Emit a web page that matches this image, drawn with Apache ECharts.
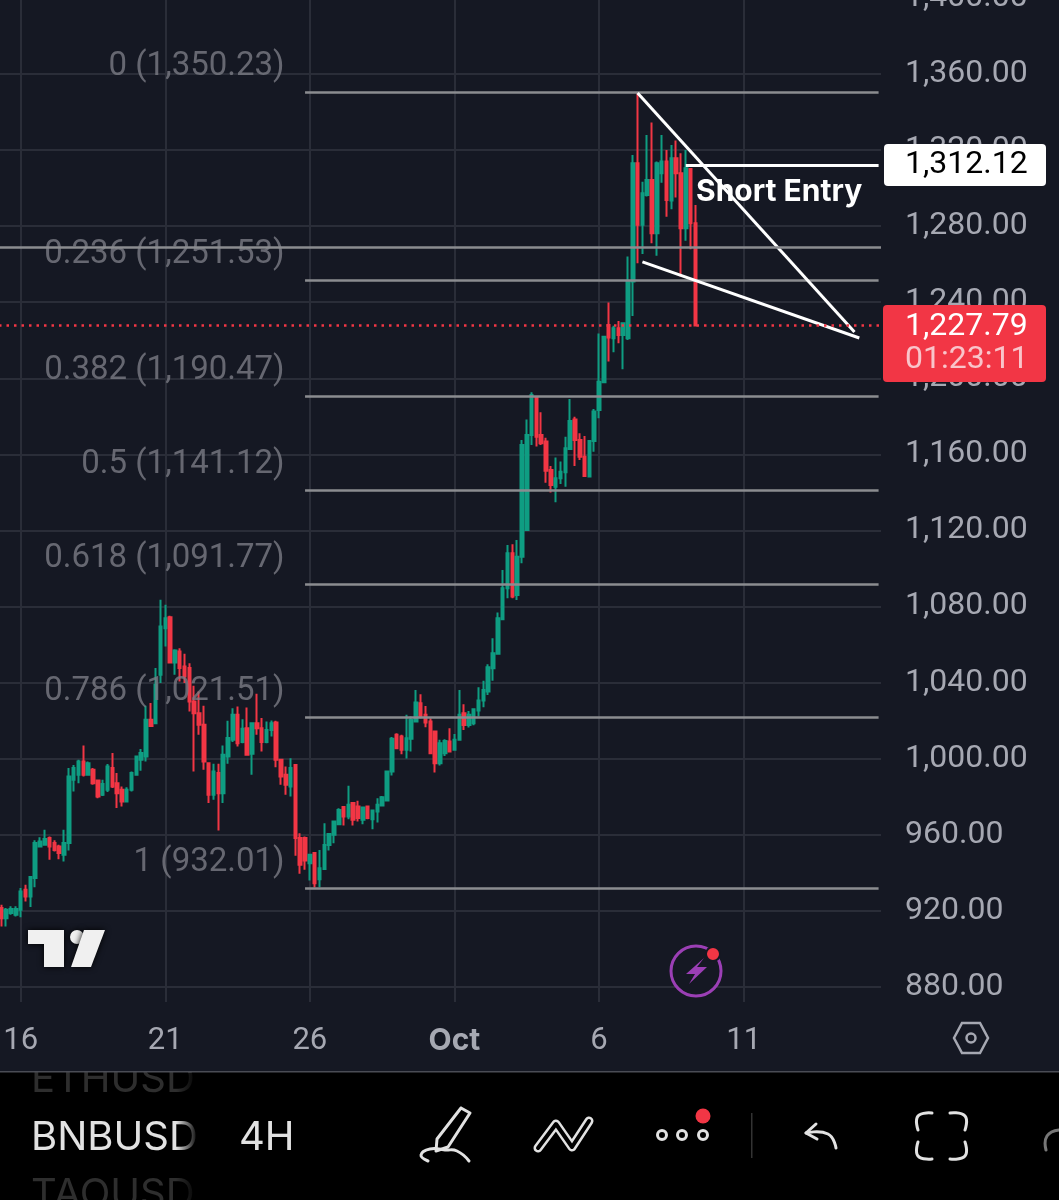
<!DOCTYPE html>
<html>
<head>
<meta charset="utf-8">
<title>BNBUSD 4H</title>
<script src="https://cdn.jsdelivr.net/npm/echarts@6/dist/echarts.min.js"></script>
<style>
html, body { margin: 0; padding: 0; background: #151823; }
#chart_bnb { width: 1059px; height: 1200px; }
</style>
</head>
<body>
<div id="chart_bnb"></div>
<script>
/* 4H candles */
var opens = [921.4,916.1,918.8,917.9,920.5,931,927.5,937.2,953.8,954.7,
	958.2,955.6,953.8,949.4,955.6,988.9,991.5,998.5,991.5,994.1,
	988.5,981,983.6,995,987.1,983.6,977.5,983.6,991.5,999.4,
	1001.1,1020.4,1018.6,1044.1,1068.6,1074.4,1050.5,1056.3,1048.4,1047.6,
	1030,1023.9,1017.8,997.6,981,992.4,981.8,1001.1,1009.9,1023,
	1008.7,1016,1002.5,1018.6,1016,1008.7,1015.1,1019,999.4,991.5,
	985.3,996.7,958.2,958.2,945,950.3,936.6,941.9,954.6,959.9,
	965.5,974.5,969.5,976.6,974.8,967.8,974.8,968.1,972.2,975.3,
	978,993.2,1012.5,1011.6,1004.6,1010.4,1019.5,1029.1,1023,1019.5,
	1014.2,997.6,1002.8,1009,1004.6,1009.9,1023.9,1017.7,1018.6,1025.3,
	1030.5,1035.3,1047.5,1055.1,1073.3,1089.6,1108,1086,1106.2,1120.2,
	1170.2,1190,1170.2,1166.7,1151.8,1143,1147.4,1150.6,1162.8,1178.4,
	1167.6,1158.8,1148.3,1167,1183.3,1197.9,1228,1221,1226.3,1222.8,
	1221.1,1250.9,1313.1,1280.7,1296.4,1304.3,1276.3,1307.8,1314,1293.5,
	1315.7,1307.8,1278.9,1310.1,1281.5];
var closes = [916.1,920.5,920.9,920.9,930.1,927.5,937.7,955.6,956.4,957.7,
	953.8,952,950.3,955.6,990.6,995,998.5,991.5,997.6,987.1,
	980.1,986.7,995.9,985.3,981.8,977.5,983.6,992.4,1001.1,1002.9,
	1020.4,1017.2,1038.8,1069.5,1073.8,1050.5,1056.8,1047.6,1043.2,1030,
	1023.9,1017.8,998.5,981,993.2,981.8,1002,1010.8,1023,1008.1,
	1015.7,1002,1018.6,1016,1008.7,1015.1,1018.6,999.4,990.6,986.2,
	995,958.2,944.2,946.4,949.4,934.5,942.4,954.6,960.4,966.9,
	973,969.5,975.7,967.8,968.7,974.3,968.7,972.7,975.7,979.7,
	993.2,1010.4,1005.5,1004.6,1010.7,1020.4,1029.5,1022.1,1019,1002.8,
	997.6,1008.1,1009.3,1003.7,1009.9,1023,1017.7,1023,1026,1030.5,
	1036.1,1048.1,1055.4,1073.8,1089.6,1108,1085.2,1106.2,1164.9,1170.2,
	1191.2,1169.3,1165.8,1151.4,1143.9,1147.4,1150.9,1163.2,1177.6,1167.6,
	1158.8,1148.6,1167,1182.5,1198.2,1221.9,1221.5,1226.3,1222.8,1228.9,
	1250.9,1313.1,1280.7,1297.3,1304.3,1276.3,1313.1,1314,1293.8,1315.7,
	1307.8,1278.9,1310.5,1281.5,1227.79];
var lows = [911.7,911.7,917.9,917,916.6,924.9,921.9,932.4,953.3,954.2,
	946.8,951.2,947.1,945.9,951.7,982.7,987.1,990.6,991,986.2,
	979.2,980.4,982.4,984.5,974,974.8,976.9,982.7,991,993.6,
	998.5,1016.9,1018.3,1039.7,1059,1050.2,1044.1,1040.5,1039.7,1024.8,
	993.2,1012.5,994.1,976.6,978.3,962.2,976.6,997.3,1008.7,1006.4,
	1008.1,1001.6,991.5,1012.5,1003.7,1008.1,1011.6,995.5,986.2,981,
	980.1,948.9,939.4,941.5,935.9,932.2,932.4,941.5,951.7,955.5,
	965.2,964.8,968.1,964.8,966.9,965.5,968.1,962.9,966.4,974.8,
	977.6,991.1,1005,1002.3,1000,1003.7,1019,1021.2,1016.5,1002.8,
	992.7,996.4,1001.4,1003.5,1004.2,1009.5,1015.1,1016.3,1017.6,1022.1,
	1027,1033.5,1041,1055.1,1072.9,1084.3,1084.3,1083.4,1102.7,1120.2,
	1164.9,1164.1,1164.9,1145.1,1139.9,1134.8,1144.4,1143,1162.7,1153.9,
	1157.1,1148.3,1147.9,1161.4,1179,1197.9,1208.8,1213.7,1218.4,1204.7,
	1220.2,1232.8,1260.5,1265.4,1295.6,1271,1264.4,1302.9,1285,1288.9,
	1295.1,1253.5,1272.4,1267.9,1227.6];
var highs = [923.1,921.4,922.3,922.3,931.9,933.6,938,957,958.7,962.6,
	959,957,954.7,962.6,995,996.7,999.4,1006.9,998.5,995,
	988.9,988.9,997.1,1002.9,992.4,985.3,985,993.2,1001.6,1005.1,
	1027.8,1029.2,1047.6,1083.5,1080.9,1075.1,1057.5,1058.1,1055.1,1050.2,
	1038.3,1035.3,1027.8,998.1,997.3,997.3,1006.9,1019.9,1026.5,1027.4,
	1020.7,1026.9,1019,1034.1,1021.3,1019.5,1020,1019.9,999.9,995.9,
	1000.2,997.1,960.8,959,949.4,950.8,952,966,960.4,967.3,
	973.9,974.8,985.7,977.1,977.8,974.8,975.2,973,979.2,980.4,
	993.6,1011.3,1013.4,1012.5,1023,1022.1,1036.1,1033.9,1027.7,1021.2,
	1014.8,1009.9,1010.2,1016,1013,1036.1,1028.6,1025.1,1026.5,1037.5,
	1041,1049.6,1063.3,1076.8,1099.2,1112.4,1112.7,1115,1167.6,1178.4,
	1192.6,1190.3,1182.1,1168.8,1153.9,1158.3,1156.2,1169.3,1189.1,1179.8,
	1171.1,1169.7,1167.6,1183.9,1223.6,1222.2,1239.8,1227.7,1230.1,1229.3,
	1264,1317.5,1349.9,1303.4,1328,1334.5,1314,1328,1320.1,1322.7,
	1325,1318.3,1320.1,1310.5,1291.2];

var fibRatios = ['0','0.236','0.382','0.5','0.618','0.786','1'];
var fibLevels = [1350.23,1251.53,1190.47,1141.12,1091.77,1021.51,932.01];
var extraLevel = 1269;
var shortEntry = 1312.12;
var lastPrice = 1227.79;
var countdown = '01:23:11';

var priceTicks = [880,920,960,1000,1040,1080,1120,1160,1200,1240,1280,1320,1360,1400];
var dateTickIndex = [4,34,64,94,124,154];
var dateTickLabels = ['16','21','26','Oct','6','11'];

/* drawn trend lines, [candle index, price] */
var upperTrend = [[132,1350],[177,1224.4]];
var lowerTrend = [[133,1261.2],[178,1221.2]];

var categories = [];
for (var i = 0; i < 183; i++) { categories.push(String(i)); }

var candles = opens.map(function (o, i) { return [o, closes[i], lows[i], highs[i]]; });

var font = 'Inter';
var numFont = 'Roboto';   // tabular digits
var axisGray = '#a6a8b2';
var fibGray = '#7a7c84';
var lineGray = '#8b8c90';
var gridGray = '#2a2d38';
var bg = '#151823';
var red = '#f23645';
var green = '#0f9d82';
var iconGray = '#e2e2e2';

function isDateTick(i) { return dateTickIndex.indexOf(i) >= 0; }
function money(v) {
	return v.toLocaleString('en-US', {minimumFractionDigits: 2, maximumFractionDigits: 2});
}

var fibLines = fibLevels.map(function (v) {
	return [{coord: [63, v]}, {coord: [182, v]}];
});
var whiteStyle = {color: '#fff', width: 3, type: 'solid'};
var drawnLines = [
	[{coord: upperTrend[0], lineStyle: whiteStyle}, {coord: upperTrend[1]}],
	[{coord: lowerTrend[0], lineStyle: whiteStyle}, {coord: lowerTrend[1]}],
	[{coord: [142, shortEntry], lineStyle: whiteStyle}, {coord: [182, shortEntry]}]
];

function poly(points, width, color) {
	return {type: 'polyline', z: 120, shape: {points: points},
		style: {stroke: color || iconGray, lineWidth: width || 3, fill: null, lineCap: 'round', lineJoin: 'round'}};
}
function smooth(points, width, color) {
	var p = poly(points, width, color);
	p.shape.smooth = 0.5;
	return p;
}
function label(text, x, y, size, color, weight, family) {
	return {type: 'text', z: 130, x: x, y: y,
		style: {text: text, fill: color, font: (weight || 400) + ' ' + size + 'px ' + (family || font),
			textAlign: 'left', textVerticalAlign: 'middle'}};
}

var graphics = [
	// price tags on the axis
	{type: 'rect', z: 110, shape: {x: 884, y: 144, width: 162, height: 42, r: 4}, style: {fill: '#fff'}},
	label(money(shortEntry), 905, 165, 32, '#000', 400, numFont),
	{type: 'rect', z: 110, shape: {x: 883, y: 305, width: 163, height: 77, r: 4}, style: {fill: red}},
	label(money(lastPrice), 905, 327, 32, '#fff', 400, numFont),
	label(countdown, 905, 360, 32, '#f9c4ca', 400, numFont),
	label('Short Entry', 696, 192, 30, '#fff', 700),

	// tradingview logo
	{type: 'polygon', z: 120, shape: {points: [[28,930],[64,930],[64,967],[44,967],[44,944],[28,944]]},
		style: {fill: '#f0f0f0', shadowBlur: 6, shadowColor: '#000'}},
	{type: 'circle', z: 120, shape: {cx: 77, cy: 937, r: 7}, style: {fill: '#f0f0f0', shadowBlur: 6, shadowColor: '#000'}},
	{type: 'polygon', z: 120, shape: {points: [[84,930],[105,930],[91,967],[71,967]]},
		style: {fill: '#f0f0f0', shadowBlur: 6, shadowColor: '#000'}},

	// lightning badge
	{type: 'circle', z: 120, shape: {cx: 696, cy: 971, r: 25}, style: {fill: bg, stroke: '#9b3fb5', lineWidth: 3}},
	{type: 'polygon', z: 121, shape: {points: [[704,958],[686,974],[695,974],[689,984],[707,967],[697,967]]}, style: {fill: '#9b3fb5'}},
	{type: 'circle', z: 121, shape: {cx: 713, cy: 954, r: 7}, style: {fill: red, stroke: bg, lineWidth: 2}},

	// settings hexagon
	{type: 'polygon', z: 120, shape: {points: [[954,1038],[962,1023],[980,1023],[988,1038],[980,1053],[962,1053]]},
		style: {fill: null, stroke: axisGray, lineWidth: 2.5}},
	{type: 'circle', z: 120, shape: {cx: 971, cy: 1038, r: 4.5}, style: {fill: null, stroke: axisGray, lineWidth: 2.5}},

	// bottom toolbar
	{type: 'rect', z: 100, shape: {x: 0, y: 1072, width: 1059, height: 128}, style: {fill: '#000'}},
	label('ETHUSD', 31, 1080, 40, '#2e2e2e', 400),
	label('TAOUSD', 31, 1195, 40, '#2e2e2e', 400),
	{type: 'rect', z: 131, shape: {x: 0, y: 1058, width: 1059, height: 14}, style: {fill: bg}},
	{type: 'rect', z: 132, shape: {x: 0, y: 1071, width: 1059, height: 1.5}, style: {fill: '#4a4c55'}},
	label('BNBUSD', 31, 1138, 40, iconGray, 400),
	{type: 'rect', z: 133, shape: {x: 176, y: 1073, width: 28, height: 127},
		style: {fill: new echarts.graphic.LinearGradient(0, 0, 1, 0, [{offset: 0, color: 'rgba(0,0,0,0)'}, {offset: 0.8, color: '#000'}, {offset: 1, color: '#000'}])}},
	label('4H', 239, 1138, 40, iconGray, 400),

	// pen
	poly([[461,1108],[470,1113],[448,1147],[436,1151],[437,1139],[461,1108]]),
	smooth([[428,1161],[421,1155],[430,1149],[445,1150],[457,1151],[469,1161]]),
	// strategy zigzag
	poly([[538,1148],[556,1124],[572,1147],[589,1121]], 9),
	poly([[538,1148],[556,1124],[572,1147],[589,1121]], 4, '#000'),
	// more dots
	{type: 'circle', z: 120, shape: {cx: 662, cy: 1135, r: 4.5}, style: {fill: null, stroke: iconGray, lineWidth: 3}},
	{type: 'circle', z: 120, shape: {cx: 682, cy: 1135, r: 4.5}, style: {fill: null, stroke: iconGray, lineWidth: 3}},
	{type: 'circle', z: 120, shape: {cx: 703, cy: 1135, r: 4.5}, style: {fill: null, stroke: iconGray, lineWidth: 3}},
	{type: 'circle', z: 120, shape: {cx: 703, cy: 1116, r: 7.5}, style: {fill: red}},
	{type: 'rect', z: 120, shape: {x: 751, y: 1113, width: 1.5, height: 45}, style: {fill: '#333'}},
	// undo
	poly([[816,1124],[806,1133],[817,1139]]),
	smooth([[806,1133],[828,1134],[836,1148]]),
	// fullscreen
	smooth([[918,1130],[918,1116],[932,1113]]),
	smooth([[950,1113],[965,1116],[965,1130]]),
	smooth([[918,1142],[918,1156],[932,1159]]),
	smooth([[950,1159],[965,1156],[965,1142]]),
	smooth([[1046,1150],[1047,1136],[1059,1130]], 3, '#777')
];

var myChart = echarts.init(document.getElementById('chart_bnb'));
var option = {
	backgroundColor: bg,
	animation: false,
	grid: {left: -1, top: -2, width: 882, height: 1004, outerBoundsMode: 'none'},
	xAxis: {
		type: 'category',
		data: categories,
		boundaryGap: true,
		axisLine: {show: false},
		axisTick: {show: false},
		splitLine: {show: true, interval: function (i) { return isDateTick(i); }, alignWithLabel: true, lineStyle: {color: gridGray, width: 2}},
		axisLabel: {
			interval: function (i) { return isDateTick(i); },
			margin: 24,
			color: axisGray,
			fontFamily: numFont,
			fontSize: 31,
			formatter: function (v, i) {
				var t = dateTickLabels[dateTickIndex.indexOf(i)];
				return t === 'Oct' ? '{b|Oct}' : t;
			},
			rich: {b: {color: axisGray, fontFamily: font, fontSize: 30, fontWeight: 700}}
		}
	},
	yAxis: {
		type: 'value',
		position: 'right',
		min: 872,
		max: 1400,
		axisLine: {show: false},
		axisTick: {show: false, customValues: priceTicks},
		splitLine: {show: true, lineStyle: {color: gridGray, width: 2}},
		axisLabel: {
			customValues: priceTicks,
			margin: 24,
			color: axisGray,
			fontFamily: numFont,
			fontSize: 32,
			padding: [0, 0, 4, 0],
			formatter: function (v) { return money(v); }
		}
	},
	series: [
		{
			type: 'candlestick',
			data: candles,
			barWidth: 3,
			itemStyle: {color: green, color0: red, borderColor: green, borderColor0: red, borderWidth: 2},
			markLine: {
				silent: true,
				symbol: 'none',
				label: {show: false},
				animation: false,
				lineStyle: {color: lineGray, width: 2.5, type: 'solid'},
				data: fibLines.concat(drawnLines).concat([
					{yAxis: extraLevel},
					{yAxis: lastPrice, lineStyle: {color: red, width: 2.5, type: [2.5, 5]}}
				])
			}
		},
		{
			// fib level captions
			type: 'scatter',
			silent: true,
			symbolSize: 1,
			itemStyle: {color: 'rgba(0,0,0,0)'},
			data: fibLevels.map(function (v) { return [63, v]; }),
			label: {
				show: true,
				position: 'left',
				distance: 20,
				offset: [0, -25.5],
				color: fibGray,
				fontFamily: numFont,
				fontSize: 33,
				formatter: function (p) {
					return fibRatios[p.dataIndex] + ' (' + money(fibLevels[p.dataIndex]) + ')';
				}
			}
		}
	],
	graphic: {elements: graphics}
};
myChart.setOption(option);
</script>
</body>
</html>
